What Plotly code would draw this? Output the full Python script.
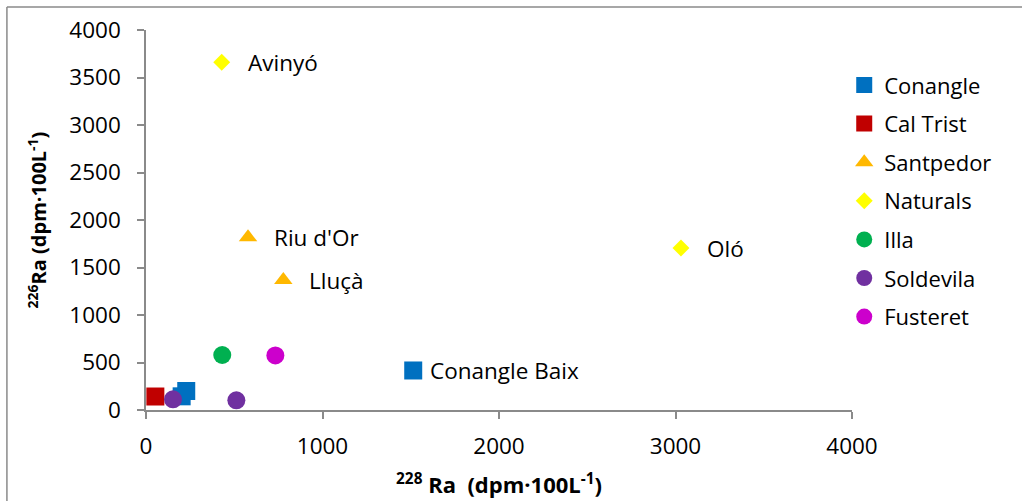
import plotly.graph_objects as go

# Sample groups: 228Ra (x) and 226Ra (y) activities, dpm per 100 L
conangle_x = [228, 202, 1514]
conangle_y = [200, 144, 416]
caltrist_x = [53]
caltrist_y = [142]
santpedor_x = [578, 778]
santpedor_y = [1818, 1368]
naturals_x = [429, 3031]
naturals_y = [3660, 1705]
illa_x = [432]
illa_y = [579]
soldevila_x = [153, 512]
soldevila_y = [113, 102]
fusteret_x = [733]
fusteret_y = [575]

# Site labels placed beside individual points: (name, x, y, shift in px)
site_labels = [
    ("Avinyó", naturals_x[0], naturals_y[0], 24),
    ("Oló", naturals_x[1], naturals_y[1], 24),
    ("Riu d'Or", santpedor_x[0], santpedor_y[0], 24),
    ("Lluçà", santpedor_x[1], santpedor_y[1], 24),
    ("Conangle Baix", conangle_x[2], conangle_y[2], 15),
]

x_ticks = [0, 1000, 2000, 3000, 4000]
y_ticks = [0, 500, 1000, 1500, 2000, 2500, 3000, 3500, 4000]

FONT = "Open Sans"
GRAY = "#8a8a8a"

series = [
    ("Conangle", conangle_x, conangle_y, "square", "#0070C0", 18),
    ("Cal Trist", caltrist_x, caltrist_y, "square", "#C00000", 18),
    ("Santpedor", santpedor_x, santpedor_y, "triangle-up", "#FFB800", 16),
    ("Naturals", naturals_x, naturals_y, "diamond", "#FFFF00", 13),
    ("Illa", illa_x, illa_y, "circle", "#00B050", 18),
    ("Soldevila", soldevila_x, soldevila_y, "circle", "#7030A0", 18),
    ("Fusteret", fusteret_x, fusteret_y, "circle", "#CC00CC", 18),
]

fig = go.Figure()
for name, xs, ys, sym, col, size in series:
    fig.add_trace(go.Scatter(
        x=xs, y=ys, mode="markers", name=name, legendgroup=name,
        marker=dict(symbol=sym, color=col, size=size, line=dict(width=0)),
        cliponaxis=False,
    ))

for text, x, y, shift in site_labels:
    fig.add_annotation(x=x, y=y, text=text, showarrow=False,
                       xanchor="left", yanchor="middle", xshift=shift,
                       font=dict(family=FONT, size=22.5, color="black"))

axis_common = dict(
    showgrid=False, zeroline=False, showline=True, linecolor=GRAY, linewidth=1.5,
    ticks="outside", ticklen=7, tickcolor=GRAY, tickwidth=1.5,
    tickfont=dict(family=FONT, size=22.5, color="black"),
    range=[0, 4000], automargin=False,
)

fig.update_xaxes(
    **axis_common, tickvals=x_ticks, ticklabelstandoff=8,
    title=dict(text="<b><sup>228</sup> Ra  (dpm·100L<sup>-1</sup>)</b>",
               font=dict(family=FONT, size=22, color="black"), standoff=18),
)
fig.update_yaxes(
    **axis_common, tickvals=y_ticks, ticklabelstandoff=12,
    title=dict(text="<b><sup>226</sup>Ra (dpm·100L<sup>-1</sup>)</b>",
               font=dict(family=FONT, size=20, color="black"), standoff=17),
)

# Outer chart frame (left and top edges)
fig.add_shape(type="line", xref="paper", yref="paper",
              x0=-0.197, x1=-0.197, y0=1.0605, y1=-0.3,
              line=dict(color=GRAY, width=1.5))
fig.add_shape(type="line", xref="paper", yref="paper",
              x0=-0.197, x1=1.3, y0=1.0605, y1=1.0605,
              line=dict(color=GRAY, width=1.5))

fig.update_layout(
    width=1022, height=501,
    margin=dict(l=146, r=170, t=30, b=91, autoexpand=False),
    paper_bgcolor="white", plot_bgcolor="white",
    showlegend=True,
    legend=dict(x=0.989, y=0.91, xanchor="left", yanchor="top",
                font=dict(family=FONT, size=22, color="black"),
                tracegroupgap=7, itemwidth=30, bgcolor="rgba(0,0,0,0)"),
)

fig.write_html("out.html")
